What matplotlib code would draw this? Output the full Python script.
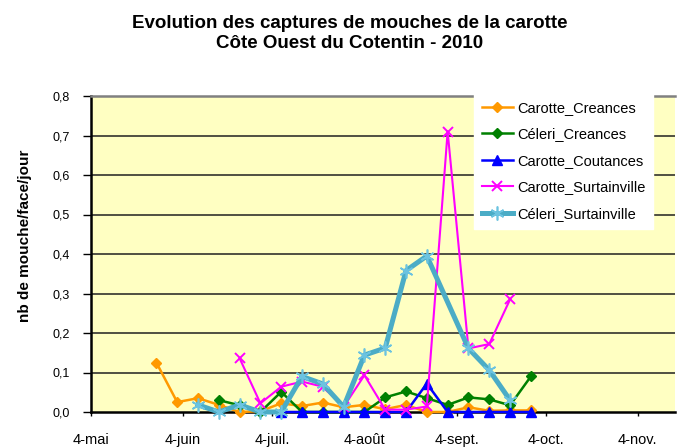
import numpy as np
import matplotlib
matplotlib.use('Agg')
import matplotlib.pyplot as plt
import matplotlib.dates as mdates
from datetime import datetime

plt.rcParams['font.family'] = ['Liberation Sans', 'DejaVu Sans']

# weekly sampling dates
dates = ['2010-05-26', '2010-06-02', '2010-06-09', '2010-06-16', '2010-06-23',
         '2010-06-30', '2010-07-07', '2010-07-14', '2010-07-21', '2010-07-28',
         '2010-08-04', '2010-08-11', '2010-08-18', '2010-08-25', '2010-09-01',
         '2010-09-08', '2010-09-15', '2010-09-22', '2010-09-29']

nan = np.nan
carotte_creances = [0.125, 0.025, 0.035, 0.018, 0.0, 0.002, 0.022, 0.015, 0.024, 0.012,
                    0.018, 0.007, 0.018, 0.0, 0.0, 0.012, 0.003, 0.004, 0.004]
celeri_creances = [nan, nan, nan, 0.030, 0.017, 0.0, 0.051, 0.0, 0.0, 0.0,
                   0.0, 0.037, 0.052, 0.035, 0.018, 0.037, 0.032, 0.017, 0.090]
carotte_coutances = [nan, nan, nan, nan, nan, nan, 0.0, 0.0, 0.0, 0.0,
                     0.0, 0.0, 0.0, 0.072, 0.0, 0.0, 0.0, 0.0, 0.0]
carotte_surtainville = [nan, nan, nan, nan, 0.136, 0.022, 0.064, 0.077, 0.064, 0.013,
                        0.093, 0.006, 0.006, 0.014, 0.710, 0.161, 0.172, 0.285, nan]
celeri_surtainville = [nan, nan, 0.018, 0.0, 0.018, 0.0, 0.0, 0.090, 0.071, 0.013,
                       0.144, 0.162, 0.358, 0.395, nan, 0.161, 0.106, 0.030, nan]

tick_dates = ['2010-05-04', '2010-06-04', '2010-07-04', '2010-08-04',
              '2010-09-04', '2010-10-04', '2010-11-04']
tick_labels = ['4-mai', '4-juin', '4-juil.', '4-août', '4-sept.', '4-oct.', '4-nov.']
y_ticks = [0.0, 0.1, 0.2, 0.3, 0.4, 0.5, 0.6, 0.7, 0.8]

x = mdates.date2num([datetime.strptime(d, '%Y-%m-%d') for d in dates])
xt = mdates.date2num([datetime.strptime(d, '%Y-%m-%d') for d in tick_dates])

fig = plt.figure(figsize=(6.78, 4.47), dpi=100)
ax = fig.add_axes([91 / 678, 1 - 412 / 447, 584 / 678, 316 / 447])
ax.set_facecolor('#FFFFC2')

series = [
    ('Carotte_Creances', carotte_creances, dict(color='#FF9900', lw=1.8, marker='D', ms=5)),
    ('Céleri_Creances', celeri_creances, dict(color='#008000', lw=1.8, marker='D', ms=5)),
    ('Carotte_Coutances', carotte_coutances, dict(color='#0000FF', lw=1.8, marker='^', ms=6.5)),
    ('Carotte_Surtainville', carotte_surtainville, dict(color='#FF00FF', lw=1.5, marker='x', ms=7, mew=1.4)),
    ('Céleri_Surtainville', celeri_surtainville, dict(color='#4BACC6', lw=3.6, marker=(6, 2, 0), ms=10,
                                                       mew=1.2, mec='#6CC3E0')),
]

for name, vals, style in series:
    vals = np.array(vals)
    ok = ~np.isnan(vals)
    ax.plot(x[ok], vals[ok], label=name, clip_on=False, zorder=3, **style)

for yv in y_ticks[1:-1]:
    ax.axhline(yv, color='#202020', lw=1.1, zorder=1)

ax.set_xlim(xt[0], xt[0] + 196.5)
ax.set_ylim(0, 0.8)
ax.set_yticks(y_ticks)
ax.set_yticklabels([f'{v:.1f}'.replace('.', ',') for v in y_ticks], fontsize=9)
ax.set_xticks(xt)
ax.set_xticklabels(tick_labels, fontsize=10.5)
ax.tick_params(axis='y', length=6, width=1, pad=9, direction='out')
ax.tick_params(axis='x', length=3, width=1, pad=12, direction='out')

ax.spines['right'].set_visible(False)
ax.spines['top'].set_color('#808080')
ax.spines['top'].set_linewidth(1.8)
ax.spines['left'].set_linewidth(1.8)
ax.spines['bottom'].set_linewidth(1.8)

fig.text(350 / 678, 1 - 23 / 447, 'Evolution des captures de mouches de la carotte',
         ha='center', va='center', fontsize=13.5, fontweight='bold')
fig.text(350 / 678, 1 - 44 / 447, 'Côte Ouest du Cotentin - 2010',
         ha='center', va='center', fontsize=13.5, fontweight='bold')
fig.text(25 / 678, 1 - 236 / 447, 'nb de mouche/face/jour', rotation=90,
         ha='center', va='center', fontsize=11, fontweight='bold')

leg = ax.legend(loc='upper left', bbox_to_anchor=(474 / 678, 1 - 93 / 447),
                bbox_transform=fig.transFigure, fontsize=10.5, frameon=True,
                fancybox=False, edgecolor='white', facecolor='white', framealpha=1,
                borderaxespad=0, borderpad=0.55, handlelength=2.1, handletextpad=0.3,
                labelspacing=0.85)
leg.set_zorder(5)

fig.savefig('out.png', dpi=100)
